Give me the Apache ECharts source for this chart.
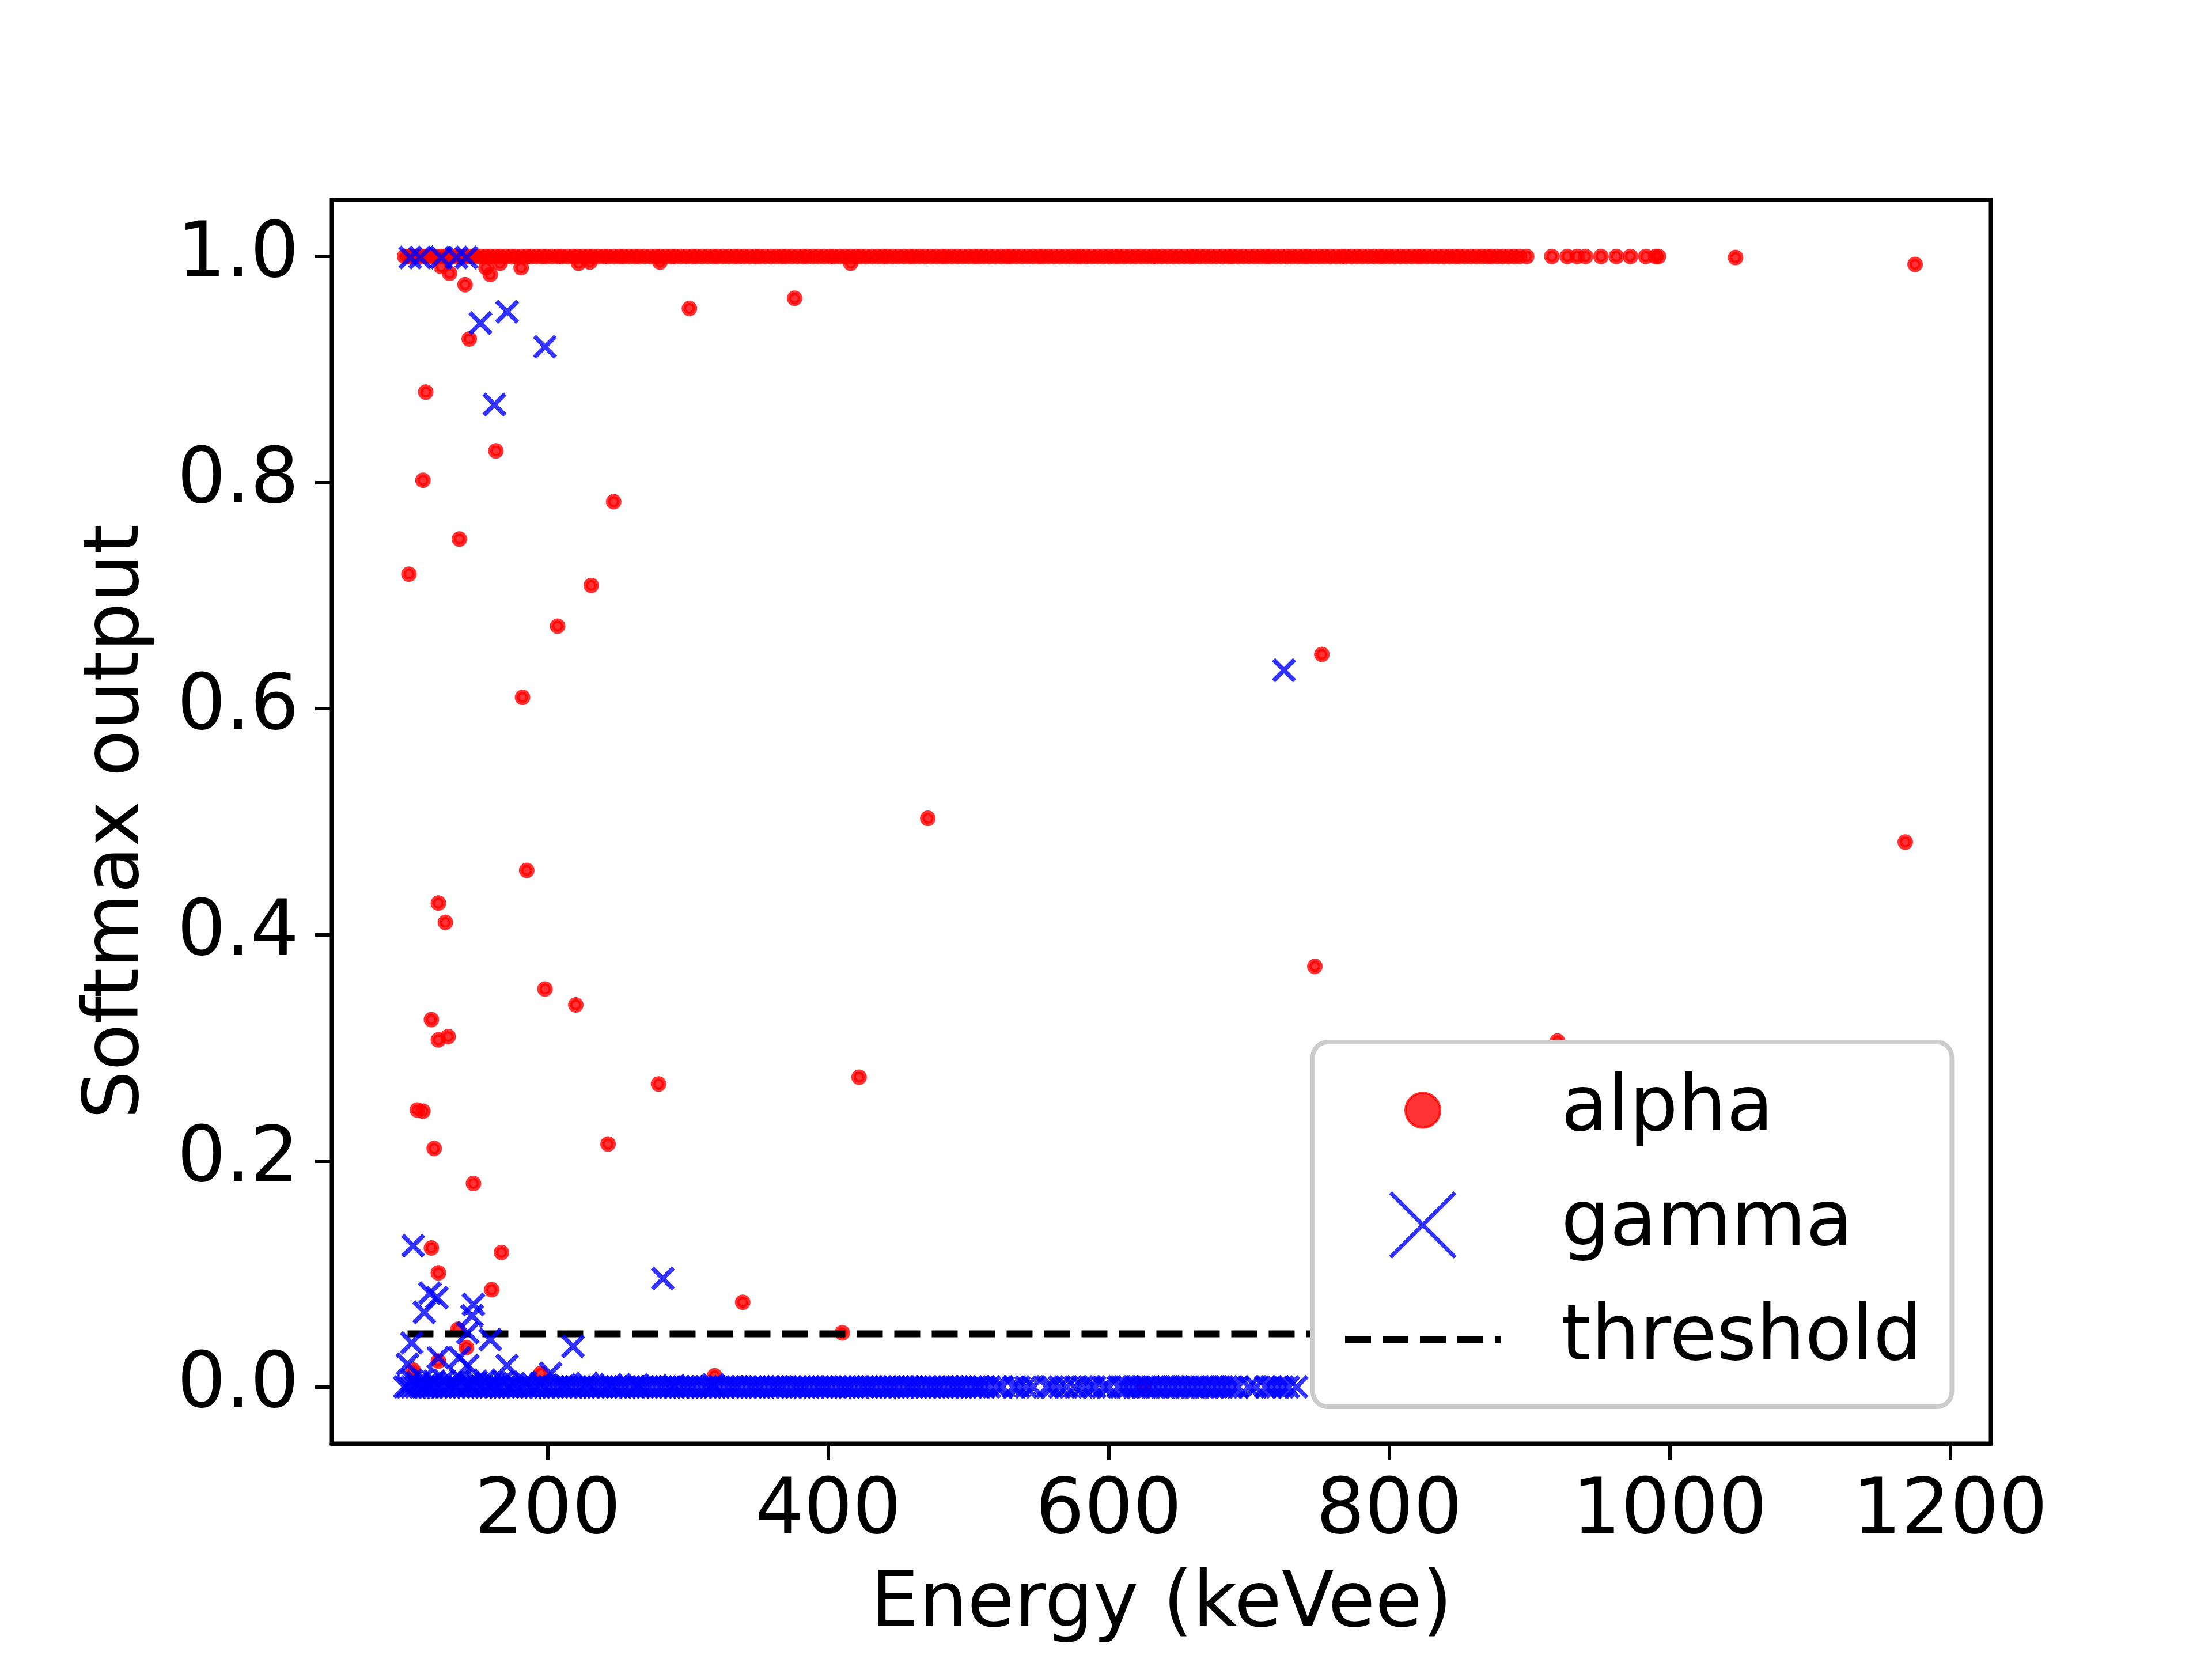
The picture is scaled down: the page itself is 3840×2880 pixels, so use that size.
<!DOCTYPE html>
<html>
<head>
<meta charset="utf-8">
<script src="https://cdn.jsdelivr.net/npm/echarts@6/dist/echarts.min.js"></script>
<style>html,body{margin:0;padding:0;background:#fff}#c{width:3840px;height:2880px}</style>
</head>
<body>
<div id="c"></div>
<script>
// ---- tick labels ----
const xTicks = [200, 400, 600, 800, 1000, 1200];
const yTicks = [0, 0.2, 0.4, 0.6, 0.8, 1.0];

// ---- alpha events: dense band near softmax = 1.0 ----
const alphaBand = [
[98,1],[101,1],[103,1],[106,1],[110,1],[113,1],[117,1],[120,1],[124,1],[127,1],[131,1],[134,1],[138,1],[141,1],[145,1],[148,1],[152,1],[156,1],[159,1],[163,1],
[166,1],[170,1],[174,1],[177,1],[181,1],[185,1],[188,1],[192,1],[196,1],[199,1],[203,1],[207,1],[210,1],[214,1],[218,1],[221,1],[225,1],[229,1],[232,1],[236,1],
[240,1],[243,1],[247,1],[251,1],[254,1],[258,1],[262,1],[265,1],[269,1],[273,1],[277,1],[280,1],[284,1],[288,1],[291,1],[295,1],[299,1],[303,1],[306,1],[310,1],
[314,1],[318,1],[321,1],[325,1],[329,1],[333,1],[336,1],[340,1],[344,1],[348,1],[351,1],[355,1],[359,1],[363,1],[367,1],[370,1],[374,1],[378,1],[382,1],[385,1],
[389,1],[393,1],[397,1],[401,1],[404,1],[408,1],[412,1],[416,1],[420,1],[423,1],[427,1],[431,1],[435,1],[439,1],[442,1],[446,1],[450,1],[454,1],[458,1],[461,1],
[465,1],[469,1],[473,1],[477,1],[481,1],[484,1],[488,1],[492,1],[496,1],[500,1],[504,1],[507,1],[511,1],[515,1],[519,1],[523,1],[527,1],[530,1],[534,1],[538,1],
[542,1],[546,1],[550,1],[553,1],[557,1],[561,1],[565,1],[569,1],[573,1],[577,1],[580,1],[584,1],[588,1],[592,1],[596,1],[600,1],[604,1],[607,1],[611,1],[615,1],
[619,1],[623,1],[627,1],[631,1],[634,1],[638,1],[642,1],[646,1],[650,1],[654,1],[658,1],[661,1],[665,1],[669,1],[673,1],[677,1],[681,1],[685,1],[688,1],[692,1],
[696,1],[700,1],[704,1],[708,1],[712,1],[715,1],[719,1],[723,1],[727,1],[731,1],[735,1],[739,1],[742,1],[746,1],[750,1],[754,1],[758,1],[762,1],[766,1],[769,1],
[773,1],[777,1],[781,1],[785,1],[789,1],[793,1],[796,1],[800,1],[804,1],[808,1],[812,1],[816,1],[820,1],[823,1],[827,1],[831,1],[835,1],[839,1],[843,1],[847,1],
[850,1],[854,1],[858,1],[862,1],[866,1],[870,1],[873,1],[877,1],[881,1],[885,1],[889,1],[893,1],[898,1],
[916,1],[927,1],[934,1],[940,1],[951,1],[962,1],[972,1],[983,1],[990,1],[992,1],[1047,0.999],[1175,0.993]
];
// ---- alpha events: scattered outputs ----
const alphaOut = [
[101,0.719],[111,0.802],[113,0.880],[107,0.245],[111,0.244],[117,0.325],[122,0.307],[129,0.310],[122,0.428],[127,0.411],
[119,0.211],[117,0.123],[122,0.101],[137,0.750],[144,0.927],[141,0.975],[130,0.985],[159,0.984],[181,0.990],[124,0.991],
[156,0.990],[166,0.994],[222,0.994],[230,0.995],[280,0.995],[416,0.994],[163,0.828],[147,0.180],[160,0.086],
[167,0.119],[182,0.610],[185,0.457],[198,0.352],[207,0.673],[220,0.338],[231,0.709],[243,0.215],[247,0.783],[279,0.268],
[301,0.954],[339,0.075],[376,0.963],[410,0.048],[422,0.274],[471,0.503],[747,0.372],[752,0.648],[920,0.306],[1168,0.482],
[136,0.051],[142,0.035],[122,0.023],[104,0.015],[195,0.012],[319,0.010],[625,0.001]
];

// ---- gamma events: dense band near softmax = 0.0 ----
const gammaBand = [
[98,0],[100,0],[103,0],[106,0],[109,0],[112,0],[115,0],[118,0],[121,0],[124,0],[127,0],[130,0],[134,0],[137,0],[140,0],[143,0],[146,0],[150,0],[153,0],[156,0],
[159,0],[162,0],[166,0],[169,0],[172,0],[175,0],[178,0],[182,0],[185,0],[188,0],[191,0],[194,0],[198,0],[201,0],[204,0],[207,0],[210,0],[214,0],[217,0],[220,0],
[223,0],[226,0],[230,0],[233,0],[236,0],[239,0],[242,0],[246,0],[249,0],[252,0],[255,0],[258,0],[262,0],[265,0],[268,0],[271,0],[274,0],[278,0],[281,0],[284,0],
[287,0],[290,0],[294,0],[297,0],[300,0],[303,0],[306,0],[310,0],[313,0],[316,0],[319,0],[322,0],[326,0],[329,0],[332,0],[335,0],[338,0],[342,0],[345,0],[348,0],
[351,0],[354,0],[358,0],[361,0],[364,0],[367,0],[370,0],[374,0],[377,0],[380,0],[383,0],[386,0],[390,0],[393,0],[396,0],[399,0],[402,0],[406,0],[409,0],[412,0],
[415,0],[418,0],[422,0],[425,0],[428,0],[431,0],[434,0],[438,0],[441,0],[444,0],[447,0],[450,0],[454,0],[457,0],[460,0],[463,0],[466,0],[470,0],[473,0],[476,0],
[479,0],[482,0],[486,0],[489,0],[492,0],[495,0],[498,0],[502,0],[505,0],[508,0],[511,0],
[515,0],[520,0],[524,0],[532,0],[536,0],[541,0],[546,0],[556,0],[560,0],[565,0],[570,0],[576,0],[581,0],[586,0],[590,0],[596,0],[600,0],
[607,0],[611,0],[614,0],[618,0],[621,0],[625,0],[628,0],[632,0],[635,0],[639,0],[642,0],[646,0],[649,0],[653,0],[656,0],[660,0],[663,0],[667,0],[670,0],[674,0],
[677,0],[681,0],[684,0],[688,0],[692,0],[700,0],[705,0],[712,0],[716,0],[720,0],[724,0],[728,0],[734,0],
[103,0.006],[107,0.004],[111,0.007],[114,0.003],[119,0.005],[126,0.006],[132,0.004],[138,0.007],[144,0.003],[149,0.005],[155,0.006],
[161,0.004],[168,0.005],[176,0.003],[184,0.004],[195,0.003],[212,0.002],[228,0.003],[245,0.002],[264,0.002],[290,0.001],[318,0.002]
];
// ---- gamma events: scattered outputs ----
const gammaOut = [
[104,0.125],[112,0.066],[116,0.083],[121,0.079],[147,0.073],[146,0.063],[143,0.048],[159,0.042],[103,0.039],[100,0.020],
[122,0.026],[137,0.026],[171,0.019],[218,0.036],[202,0.012],[143,0.019],[282,0.096],[152,0.941],[171,0.951],[198,0.920],
[162,0.869],[725,0.634],[102,0.999],[109,0.999],[124,0.999],[135,0.999],[142,0.999]
];

// ---- decision threshold ----
const thresholdLine = [[100, 0.047], [1175, 0.047]];

const FONT = "'DejaVu Sans', sans-serif";
const xMarker = 'path://M0,13 L13,0 L50,37 L87,0 L100,13 L63,50 L100,87 L87,100 L50,63 L13,100 L0,87 L37,50 Z';
const xLegendIcon = 'path://M0,0 M270,117 M76.5,5 L81.5,0 L135,53.5 L188.5,0 L193.5,5 L140,58.5 L193.5,112 L188.5,117 L135,63.5 L81.5,117 L76.5,112 L130,58.5 Z';
const dotLegendIcon = 'path://M0,0 M270,117 M105,58.5 A30,30 0 1,1 165,58.5 A30,30 0 1,1 105,58.5 Z';
const dashLegendIcon = 'path://M0,0 M270,117 M0,52.5 L45,52.5 L45,64.5 L0,64.5 Z M65,52.5 L110,52.5 L110,64.5 L65,64.5 Z M130,52.5 L175,52.5 L175,64.5 L130,64.5 Z M195,52.5 L240,52.5 L240,64.5 L195,64.5 Z M260,52.5 L270,52.5 L270,64.5 L260,64.5 Z';

const chart = echarts.init(document.getElementById('c'), null, {renderer: 'canvas'});
chart.setOption({
  animation: false,
  backgroundColor: '#ffffff',
  grid: {left: 576, right: 384, top: 347, bottom: 374, show: true, borderColor: '#000', borderWidth: 7, backgroundColor: 'transparent'},
  xAxis: {
    type: 'value', min: 46, max: 1229,
    name: 'Energy (keVee)', nameLocation: 'middle', nameGap: 216,
    nameTextStyle: {fontSize: 133, fontFamily: FONT, color: '#000'},
    axisLine: {show: true, onZero: false, lineStyle: {color: '#000', width: 7}},
    axisTick: {show: true, length: 29, lineStyle: {color: '#000', width: 6}, customValues: xTicks},
    axisLabel: {customValues: xTicks, fontSize: 133, fontFamily: FONT, color: '#000', margin: 54,
      formatter: function (v) { return String(v); }},
    splitLine: {show: false}
  },
  yAxis: {
    type: 'value', min: -0.05, max: 1.05,
    name: 'Softmax output', nameLocation: 'middle', nameGap: 305, nameRotate: 90,
    nameTextStyle: {fontSize: 133, fontFamily: FONT, color: '#000'},
    axisLine: {show: true, onZero: false, lineStyle: {color: '#000', width: 7}},
    axisTick: {show: true, length: 29, lineStyle: {color: '#000', width: 6}, customValues: yTicks},
    axisLabel: {customValues: yTicks, fontSize: 133, fontFamily: FONT, color: '#000', margin: 57,
      formatter: function (v) { return v.toFixed(1); }},
    splitLine: {show: false}
  },
  legend: {
    orient: 'vertical', left: 2279, top: 1809,
    padding: [52, 52, 50, 54],
    itemWidth: 270, itemHeight: 117, itemGap: 66,
    backgroundColor: '#ffffff', borderColor: '#cccccc', borderWidth: 8, borderRadius: 26,
    selectedMode: false,
    textStyle: {fontSize: 133, fontFamily: FONT, color: '#000', lineHeight: 117, padding: [0, 0, 0, 100]},
    data: [
      {name: 'alpha', icon: dotLegendIcon, itemStyle: {borderWidth: 4}},
      {name: 'gamma', icon: xLegendIcon},
      {name: 'threshold', icon: dashLegendIcon, itemStyle: {color: '#000000', opacity: 1, borderWidth: 0}}
    ]
  },
  series: [
    {
      name: 'alpha', type: 'scatter', data: alphaBand.concat(alphaOut),
      symbol: 'circle', symbolSize: 19,
      itemStyle: {color: '#ff0000', opacity: 0.8, borderColor: '#ff0000', borderWidth: 8},
      emphasis: {disabled: true}, z: 2
    },
    {
      name: 'gamma', type: 'scatter', data: gammaBand.concat(gammaOut),
      symbol: xMarker, symbolSize: 42,
      itemStyle: {color: '#0000ff', opacity: 0.8},
      emphasis: {disabled: true}, z: 3
    },
    {
      name: 'threshold', type: 'line', data: thresholdLine,
      symbol: 'none', showSymbol: false,
      lineStyle: {color: '#000000', width: 12, type: [45, 20]},
      itemStyle: {color: '#000000'},
      emphasis: {disabled: true}, z: 3
    }
  ]
});
</script>
</body>
</html>
